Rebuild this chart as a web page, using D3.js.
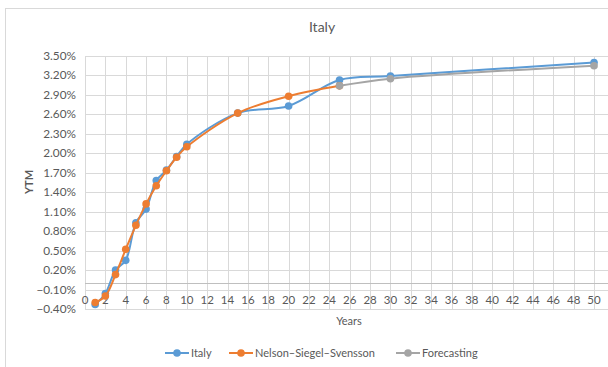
<!DOCTYPE html>
<html>
<head>
<meta charset="utf-8">
<script src="https://cdn.jsdelivr.net/npm/d3@7"></script>
<style>
  body { margin: 0; background: #fff; }
  svg { display: block; font-family: Lato, "Open Sans", sans-serif; }
</style>
</head>
<body>
<div id="chart"></div>
<script>
const width = 608, height = 367;

// series data (years, YTM in %)
const italyYears = [1, 2, 3, 4, 5, 6, 7, 8, 9, 10, 15, 20, 25, 30, 50];
const italyYtm = [-0.33, -0.16, 0.20, 0.35, 0.93, 1.14, 1.58, 1.74, 1.95, 2.14, 2.62, 2.73, 3.13, 3.19, 3.40];
const nssYears = [1, 2, 3, 4, 5, 6, 7, 8, 9, 10, 15, 20, 25];
const nssYtm = [-0.30, -0.20, 0.13, 0.52, 0.89, 1.22, 1.50, 1.73, 1.94, 2.10, 2.62, 2.88, 3.04];
const fcYears = [25, 30, 50];
const fcYtm = [3.04, 3.15, 3.35];
const yTicks = [-0.4, -0.1, 0.2, 0.5, 0.8, 1.1, 1.4, 1.7, 2.0, 2.3, 2.6, 2.9, 3.2, 3.5];
const xTicks = d3.range(0, 51, 2);

const series = [
  { name: "Italy", xs: italyYears, ys: italyYtm, color: "#5B9BD5" },
  { name: "Nelson\u2013Siegel\u2013Svensson", xs: nssYears, ys: nssYtm, color: "#ED7D31" },
  { name: "Forecasting", xs: fcYears, ys: fcYtm, color: "#A5A5A5" }
];

const x = d3.scaleLinear().domain([0, 52]).range([85, 614.4]);
const y = d3.scaleLinear().domain([-0.4, 3.5]).range([309, 56]);

const svg = d3.select("#chart").append("svg")
    .attr("width", width)
    .attr("height", height);

// chart border
svg.append("rect")
    .attr("x", 5.5).attr("y", 8.5)
    .attr("width", 700).attr("height", 500)
    .attr("fill", "none")
    .attr("stroke", "#d9d9d9");

svg.append("text")
    .attr("x", 322).attr("y", 32)
    .attr("text-anchor", "middle")
    .attr("font-size", 14)
    .attr("fill", "#595959")
    .text("Italy");

// horizontal gridlines
svg.append("g")
    .attr("stroke", "#d9d9d9")
    .selectAll("line")
    .data(yTicks)
    .join("line")
    .attr("x1", x(0)).attr("x2", width)
    .attr("y1", d => Math.round(y(d)) + 0.5)
    .attr("y2", d => Math.round(y(d)) + 0.5);

// vertical gridlines
svg.append("g")
    .attr("stroke", "#d9d9d9")
    .selectAll("line")
    .data(d3.range(0, 53, 2))
    .join("line")
    .attr("x1", d => Math.round(x(d)) + 0.5)
    .attr("x2", d => Math.round(x(d)) + 0.5)
    .attr("y1", y(3.5)).attr("y2", y(-0.4));

// x axis line at 0%
svg.append("line")
    .attr("x1", x(0)).attr("x2", width)
    .attr("y1", Math.round(y(0)) + 0.5).attr("y2", Math.round(y(0)) + 0.5)
    .attr("stroke", "#bfbfbf");

// y tick labels
svg.append("g")
    .selectAll("text")
    .data(yTicks)
    .join("text")
    .attr("x", 76)
    .attr("y", d => y(d) + 4)
    .attr("text-anchor", "end")
    .attr("font-size", 11.8)
    .attr("fill", "#595959")
    .text(d => d3.format(".2f")(d) + "%");

// x tick labels
svg.append("g")
    .selectAll("text")
    .data(xTicks)
    .join("text")
    .attr("x", d => x(d))
    .attr("y", 304)
    .attr("text-anchor", "middle")
    .attr("font-size", 11.5)
    .attr("fill", "#595959")
    .text(d => d);

svg.append("text")
    .attr("transform", "translate(33,182) rotate(-90)")
    .attr("text-anchor", "middle")
    .attr("font-size", 11)
    .attr("font-weight", "bold")
    .attr("fill", "#595959")
    .text("YTM");

svg.append("text")
    .attr("x", 349).attr("y", 325)
    .attr("text-anchor", "middle")
    .attr("font-size", 11)
    .attr("fill", "#595959")
    .text("Years");

const line = d3.line()
    .x(d => x(d[0]))
    .y(d => y(d[1]))
    .curve(d3.curveCatmullRom.alpha(0.5));

series.forEach(s => {
  const pts = s.xs.map((v, i) => [v, s.ys[i]]);
  const g = svg.append("g");
  g.append("path")
      .attr("d", line(pts))
      .attr("fill", "none")
      .attr("stroke", s.color)
      .attr("stroke-width", 2);
  g.selectAll("circle")
      .data(pts)
      .join("circle")
      .attr("cx", d => x(d[0]))
      .attr("cy", d => y(d[1]))
      .attr("r", 3.8)
      .attr("fill", s.color);
});

// legend
const legendX = [165, 229, 396];
const legend = svg.append("g")
    .selectAll("g")
    .data(series)
    .join("g")
    .attr("transform", (d, i) => `translate(${legendX[i]},353)`);
legend.append("line")
    .attr("x1", 0).attr("x2", 24)
    .attr("stroke", d => d.color)
    .attr("stroke-width", 2);
legend.append("circle")
    .attr("cx", 12).attr("r", 3.8)
    .attr("fill", d => d.color);
legend.append("text")
    .attr("x", 26).attr("y", 4)
    .attr("font-size", 11)
    .attr("fill", "#595959")
    .text(d => d.name);
</script>
</body>
</html>
